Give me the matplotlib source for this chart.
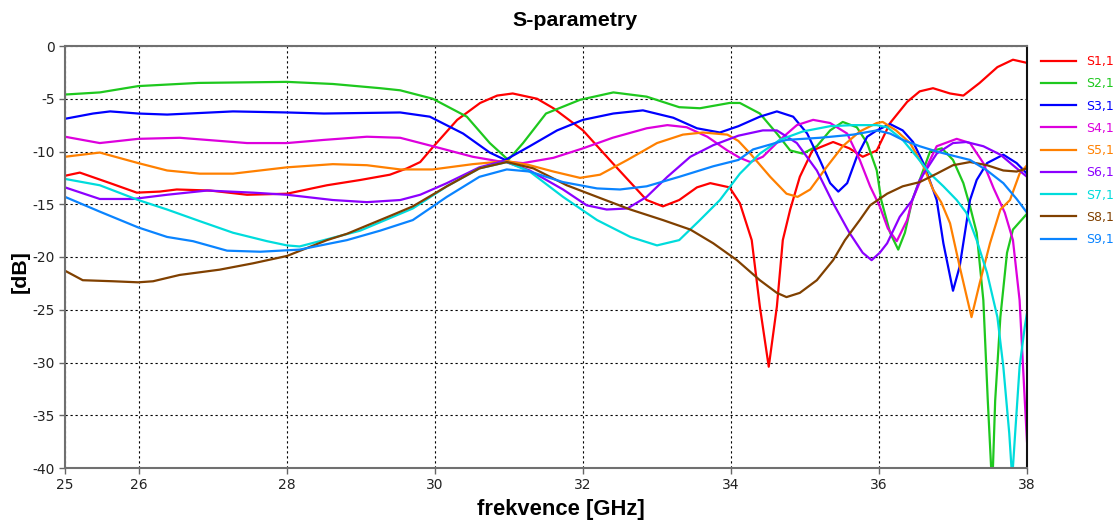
import matplotlib
matplotlib.use("Agg")
import matplotlib.pyplot as plt

# Frequency [GHz] / magnitude [dB] samples for each S-parameter trace
S11 = [(25.0, -12.3), (25.2, -12.0), (25.61, -13.0), (25.97, -13.9), (26.28, -13.8), (26.51, -13.6),
       (26.96, -13.7), (27.46, -14.1), (28.0, -14.0), (28.54, -13.2), (28.99, -12.7), (29.39, -12.2),
       (29.62, -11.6), (29.8, -11.0), (29.97, -9.6), (30.3, -7.0), (30.61, -5.4), (30.84, -4.7),
       (31.05, -4.5), (31.38, -5.0), (31.6, -5.9), (32.0, -8.0), (32.4, -11.1), (32.86, -14.6),
       (33.08, -15.2), (33.3, -14.6), (33.54, -13.4), (33.72, -13.0), (33.98, -13.4), (34.12, -14.9),
       (34.28, -18.4), (34.39, -24.7), (34.51, -30.4), (34.62, -24.7), (34.70, -18.4), (34.8, -15.5),
       (34.93, -12.4), (35.1, -9.9), (35.38, -9.1), (35.6, -9.7), (35.78, -10.5), (35.97, -9.9),
       (36.15, -7.3), (36.38, -5.3), (36.55, -4.3), (36.73, -4.0), (36.96, -4.5), (37.14, -4.7),
       (37.36, -3.5), (37.6, -2.0), (37.81, -1.3), (38.0, -1.6)]

S21 = [(25.0, -4.6), (25.47, -4.4), (25.99, -3.8), (26.8, -3.5), (28.0, -3.4), (28.62, -3.6),
       (29.26, -4.0), (29.53, -4.2), (29.97, -5.0), (30.43, -6.7), (30.74, -9.2), (30.99, -10.8),
       (31.19, -9.2), (31.5, -6.4), (31.96, -5.1), (32.41, -4.4), (32.86, -4.8), (33.3, -5.8),
       (33.58, -5.9), (33.98, -5.4), (34.12, -5.4), (34.39, -6.4), (34.62, -8.3), (34.8, -9.9),
       (34.97, -10.2), (35.16, -9.5), (35.34, -8.0), (35.51, -7.2), (35.7, -7.7), (35.84, -9.2),
       (35.97, -11.8), (36.03, -14.6), (36.15, -17.7), (36.26, -19.3), (36.35, -17.7), (36.45, -14.6),
       (36.55, -12.7), (36.69, -10.0), (36.85, -9.7), (37.0, -10.8), (37.14, -13.0), (37.23, -15.2),
       (37.32, -17.7), (37.41, -24.1), (37.47, -33.6), (37.53, -42.0), (37.57, -33.6), (37.64, -25.7),
       (37.73, -19.6), (37.81, -17.4), (38.0, -15.9)]

S31 = [(25.0, -6.9), (25.38, -6.4), (25.61, -6.2), (25.99, -6.4), (26.38, -6.5), (27.27, -6.2),
       (28.0, -6.3), (28.5, -6.4), (29.53, -6.3), (29.93, -6.7), (30.38, -8.3), (30.74, -10.1),
       (30.95, -10.8), (31.28, -9.5), (31.65, -8.0), (32.0, -7.0), (32.41, -6.4), (32.81, -6.1),
       (33.22, -6.8), (33.54, -7.8), (33.85, -8.2), (34.1, -7.6), (34.39, -6.7), (34.62, -6.2),
       (34.84, -6.7), (35.03, -8.3), (35.2, -10.8), (35.34, -13.0), (35.45, -13.8), (35.57, -13.0),
       (35.7, -10.5), (35.84, -8.6), (35.97, -8.0), (36.15, -7.4), (36.32, -8.0), (36.46, -9.1),
       (36.6, -11.1), (36.73, -13.6), (36.78, -14.6), (36.87, -18.7), (37.0, -23.2), (37.09, -20.9),
       (37.23, -14.6), (37.32, -12.7), (37.46, -11.1), (37.68, -10.3), (37.86, -11.1), (38.0, -12.1)]

S41 = [(25.0, -8.6), (25.47, -9.2), (25.99, -8.8), (26.55, -8.7), (27.46, -9.2), (28.0, -9.2),
       (28.5, -8.9), (29.08, -8.6), (29.53, -8.7), (29.97, -9.5), (30.51, -10.5), (30.84, -10.9),
       (31.19, -11.1), (31.6, -10.6), (32.0, -9.7), (32.4, -8.7), (32.86, -7.8), (33.14, -7.5),
       (33.4, -7.7), (33.68, -8.6), (33.95, -9.9), (34.12, -10.6), (34.26, -11.0), (34.43, -10.5),
       (34.66, -8.9), (34.89, -7.5), (35.11, -7.0), (35.34, -7.3), (35.57, -8.3), (35.74, -10.8),
       (35.88, -13.3), (36.01, -15.2), (36.12, -17.3), (36.24, -18.5), (36.38, -16.5), (36.45, -14.6),
       (36.6, -12.1), (36.78, -9.5), (37.05, -8.8), (37.23, -9.2), (37.41, -11.1), (37.55, -13.5),
       (37.7, -15.8), (37.81, -18.4), (37.9, -24.1), (37.97, -33.6), (38.0, -37.5)]

S51 = [(25.0, -10.5), (25.47, -10.1), (25.99, -11.1), (26.38, -11.8), (26.82, -12.1), (27.27, -12.1),
       (28.0, -11.5), (28.62, -11.2), (29.08, -11.3), (29.53, -11.7), (29.97, -11.7), (30.51, -11.2),
       (30.97, -10.9), (31.28, -11.3), (31.6, -11.9), (31.96, -12.5), (32.23, -12.2), (32.6, -10.8),
       (33.0, -9.2), (33.35, -8.4), (33.62, -8.2), (33.95, -8.4), (34.1, -9.0), (34.26, -10.2),
       (34.53, -12.4), (34.75, -14.0), (34.9, -14.3), (35.07, -13.6), (35.3, -11.4), (35.51, -9.5),
       (35.74, -8.1), (35.97, -7.3), (36.05, -7.2), (36.23, -8.0), (36.42, -9.2), (36.6, -11.4),
       (36.73, -13.6), (36.84, -14.8), (36.96, -16.8), (37.09, -20.9), (37.25, -25.7), (37.36, -22.5),
       (37.5, -18.7), (37.64, -15.5), (37.77, -14.6), (37.9, -12.1), (38.0, -11.3)]

S61 = [(25.0, -13.4), (25.47, -14.5), (25.92, -14.5), (26.38, -14.1), (26.92, -13.7), (27.54, -13.9),
       (28.0, -14.1), (28.62, -14.6), (29.08, -14.8), (29.53, -14.6), (29.8, -14.1), (30.16, -13.0),
       (30.6, -11.5), (30.92, -10.9), (31.28, -11.8), (31.73, -13.6), (32.05, -15.1), (32.32, -15.5),
       (32.6, -15.4), (32.86, -14.3), (33.14, -12.4), (33.45, -10.5), (33.76, -9.4), (34.1, -8.5),
       (34.43, -8.0), (34.62, -8.0), (34.89, -9.2), (35.16, -11.8), (35.38, -14.9), (35.6, -17.7),
       (35.78, -19.6), (35.9, -20.3), (36.01, -19.6), (36.11, -18.7), (36.28, -16.2), (36.45, -14.6),
       (36.55, -12.7), (36.78, -10.2), (37.0, -9.2), (37.18, -9.1), (37.41, -9.5), (37.64, -10.3),
       (37.81, -11.3), (38.0, -12.4)]

S71 = [(25.0, -12.6), (25.47, -13.2), (25.99, -14.6), (26.38, -15.5), (26.82, -16.6), (27.27, -17.7),
       (27.73, -18.5), (28.0, -18.9), (28.17, -19.0), (28.99, -17.5), (29.26, -16.7), (29.7, -15.4),
       (30.16, -13.3), (30.6, -11.6), (30.97, -11.0), (31.28, -11.9), (31.73, -14.3), (32.19, -16.5),
       (32.64, -18.1), (33.0, -18.9), (33.3, -18.4), (33.58, -16.5), (33.85, -14.6), (34.12, -12.1),
       (34.39, -10.2), (34.66, -8.9), (34.97, -8.1), (35.34, -7.6), (35.65, -7.5), (35.97, -7.5),
       (36.11, -7.7), (36.32, -8.9), (36.51, -10.5), (36.69, -12.1), (36.87, -13.3), (37.05, -14.6),
       (37.18, -15.8), (37.32, -18.4), (37.46, -21.5), (37.6, -25.7), (37.68, -30.4), (37.76, -36.7),
       (37.8, -41.0), (37.84, -36.7), (37.9, -30.4), (37.97, -26.6), (38.0, -25.3)]

S81 = [(25.0, -21.3), (25.24, -22.2), (25.65, -22.3), (25.99, -22.4), (26.19, -22.3), (26.55, -21.7),
       (27.09, -21.2), (27.54, -20.6), (28.0, -19.9), (28.54, -18.4), (28.81, -17.8), (29.43, -16.0),
       (29.7, -15.2), (30.16, -13.3), (30.6, -11.6), (30.97, -11.0), (31.33, -11.6), (31.78, -13.2),
       (32.19, -14.3), (32.64, -15.5), (33.08, -16.5), (33.45, -17.4), (33.76, -18.7), (34.08, -20.3),
       (34.39, -22.2), (34.62, -23.4), (34.75, -23.8), (34.93, -23.4), (35.16, -22.2), (35.38, -20.3),
       (35.54, -18.4), (35.74, -16.5), (35.88, -15.1), (36.11, -14.0), (36.32, -13.3), (36.55, -12.9),
       (36.78, -12.1), (37.0, -11.3), (37.23, -11.0), (37.46, -11.3), (37.68, -11.8), (37.86, -11.9),
       (38.0, -11.6)]

S91 = [(25.0, -14.3), (25.47, -15.7), (25.99, -17.2), (26.38, -18.1), (26.73, -18.5), (27.19, -19.4),
       (27.64, -19.5), (28.17, -19.3), (28.81, -18.4), (29.26, -17.5), (29.7, -16.5), (30.16, -14.3),
       (30.6, -12.4), (30.97, -11.7), (31.28, -11.9), (31.73, -12.9), (32.19, -13.5), (32.5, -13.6),
       (32.86, -13.3), (33.3, -12.4), (33.76, -11.4), (34.1, -10.8), (34.3, -9.8), (34.75, -8.9),
       (35.2, -8.7), (35.65, -8.4), (35.97, -8.0), (36.15, -8.3), (36.32, -8.9), (36.55, -9.5),
       (36.78, -10.0), (37.0, -10.4), (37.23, -10.8), (37.46, -11.8), (37.68, -13.0), (37.86, -14.5),
       (38.0, -15.8)]

labels = ["S1,1", "S2,1", "S3,1", "S4,1", "S5,1", "S6,1", "S7,1", "S8,1", "S9,1"]
series = [S11, S21, S31, S41, S51, S61, S71, S81, S91]
colors = ["#ff0000", "#1ec81e", "#0000ff", "#dd00dd", "#ff8000",
          "#8c00ff", "#00dcdc", "#804000", "#0a84ff"]

x_ticks = [25, 26, 28, 30, 32, 34, 36, 38]
y_ticks = [0, -5, -10, -15, -20, -25, -30, -35, -40]

W, H = 1116, 521
fig = plt.figure(figsize=(W / 100, H / 100), dpi=100)
ax = fig.add_axes([65 / W, 1 - 468 / H, (1027 - 65) / W, (468 - 46) / H])

for pts, lab, col in zip(series, labels, colors):
    f = [p[0] for p in pts]
    v = [p[1] for p in pts]
    ax.plot(f, v, color=col, lw=1.6, label=lab, solid_joinstyle="round")

ax.set_xlim(25, 38)
ax.set_ylim(-40, 0)
ax.set_xticks(x_ticks)
ax.set_yticks(y_ticks)
ax.set_xticklabels([str(t) for t in x_ticks])
ax.set_yticklabels([str(t) for t in y_ticks])
ax.tick_params(direction="out", length=4, width=1, color="#666666",
               labelsize=10, labelcolor="#222222")
ax.grid(True, color="black", linestyle=(0, (2, 2.5)), linewidth=0.8)

for side in ["left", "bottom", "top"]:
    ax.spines[side].set_color("#707070")
    ax.spines[side].set_linewidth(1.5)
ax.spines["right"].set_color("#111111")
ax.spines["right"].set_linewidth(1.5)

# Title and axis labels
fig.text(575 / W, 1 - 20 / H, "S-parametry", family="Liberation Sans",
         fontweight="bold", fontsize=15.4, ha="center", va="center")
ax.set_xlabel("frekvence [GHz]", family="Liberation Sans", fontweight="bold",
              fontsize=15.8)
ax.xaxis.set_label_coords((561 - 65) / (1027 - 65), -(510 - 468) / (468 - 46))
ax.xaxis.label.set_va("center")
ax.set_ylabel("[dB]", family="Liberation Sans", fontweight="bold",
              fontsize=15.4)
ax.yaxis.set_label_coords(-(65 - 20) / (1027 - 65), (468 - 272) / (468 - 46))
ax.yaxis.label.set_va("center")

leg = ax.legend(loc="upper left", bbox_to_anchor=(1.002, 1.008), frameon=False,
                handlelength=2.8, handletextpad=0.75, labelspacing=0.74,
                fontsize=9, labelcolor="linecolor", borderaxespad=0.6)

fig.savefig("out.png", dpi=100)
